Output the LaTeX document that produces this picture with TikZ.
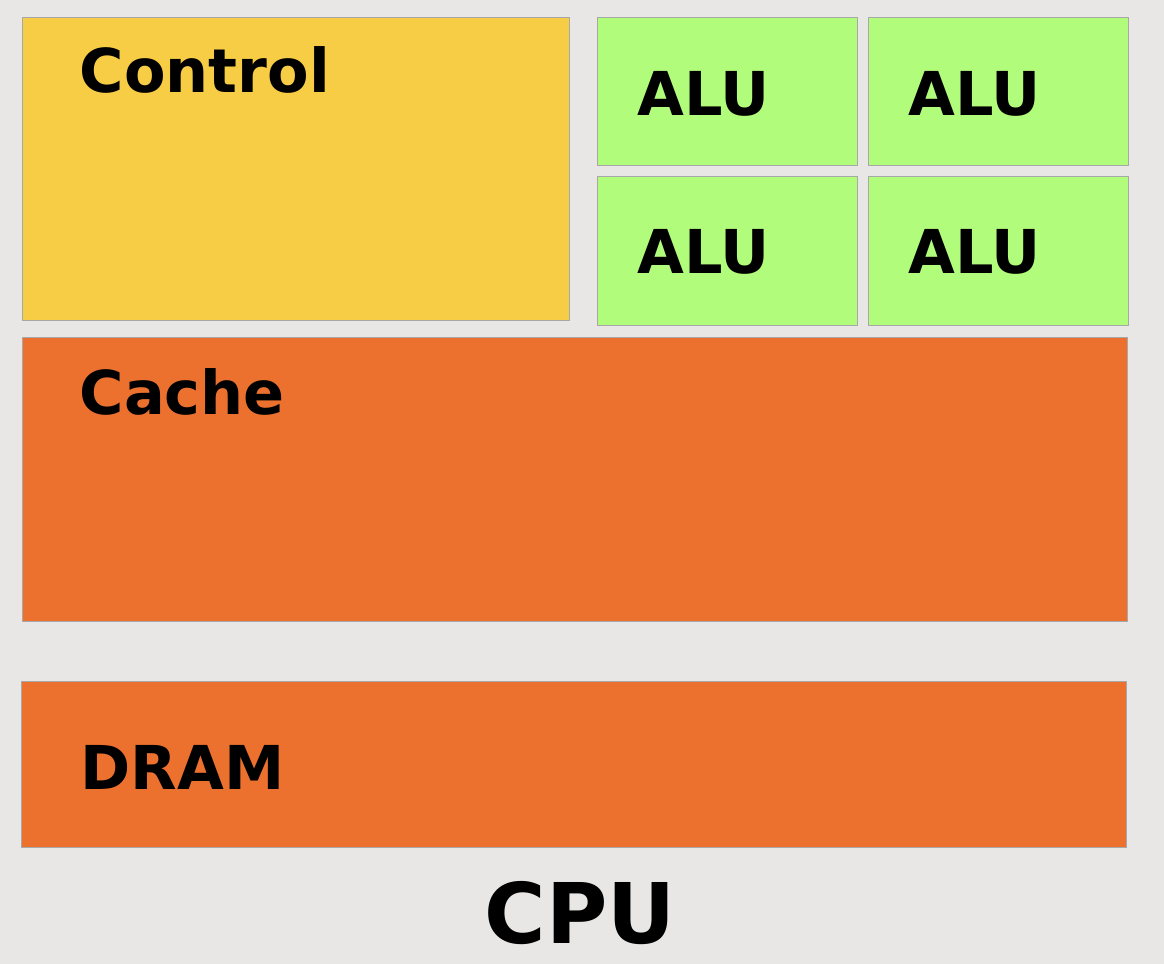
\documentclass[tikz,border=0pt]{standalone}
\usepackage{fontspec}
\setmainfont{DejaVu Sans}
\usepackage{xcolor}
\usetikzlibrary{positioning}

\definecolor{bgcol}{HTML}{E8E7E5}
\definecolor{ctrlcol}{HTML}{F7CD46}
\definecolor{alucol}{HTML}{B2FC7C}
\definecolor{cachecol}{HTML}{ED712E}
\definecolor{edgecol}{HTML}{A8A8A8}

\begin{document}
\begin{tikzpicture}[x=0.01cm, y=-0.01cm,
  box/.style={draw=edgecol, line width=0.3pt, anchor=north west, inner sep=0pt},
  lbl/.style={anchor=base west, inner sep=0pt, font=\fontsize{17.2}{20}\selectfont\bfseries}]

  % background
  \fill[bgcol] (0,0) rectangle (1164,964);
  \useasboundingbox (0,0) rectangle (1164,964);

  % blocks
  \node (ctrl) [box, fill=ctrlcol, minimum width=5.47cm, minimum height=3.03cm] at (22,17) {};
  \node (alu1) [box, fill=alucol, minimum width=2.60cm, minimum height=1.48cm] at (597,17) {};
  \node (alu2) [box, fill=alucol, minimum width=2.60cm, minimum height=1.48cm] at (868,17) {};
  \node (alu3) [box, fill=alucol, minimum width=2.60cm, minimum height=1.49cm] at (597,176) {};
  \node (alu4) [box, fill=alucol, minimum width=2.60cm, minimum height=1.49cm] at (868,176) {};
  \node (cache) [box, fill=cachecol, minimum width=11.04cm, minimum height=2.84cm] at (22,337) {};
  \node (dram) [box, fill=cachecol, minimum width=11.04cm, minimum height=1.66cm] at (21,681) {};

  % labels
  \node (ctrltxt) [lbl] at (79,93) {Control};
  \node (alu1txt) [lbl] at (637,116) {ALU};
  \node (alu2txt) [lbl] at (908,116) {ALU};
  \node (alu3txt) [lbl] at (637,274) {ALU};
  \node (alu4txt) [lbl] at (908,274) {ALU};
  \node (cachetxt) [lbl] at (79,414) {Cache};
  \node (dramtxt) [lbl] at (80,789) {DRAM};
  \node (cputxt) [anchor=base, inner sep=0pt, font=\fontsize{23.8}{28}\selectfont\bfseries] at (580,943) {CPU};

\end{tikzpicture}
\end{document}
